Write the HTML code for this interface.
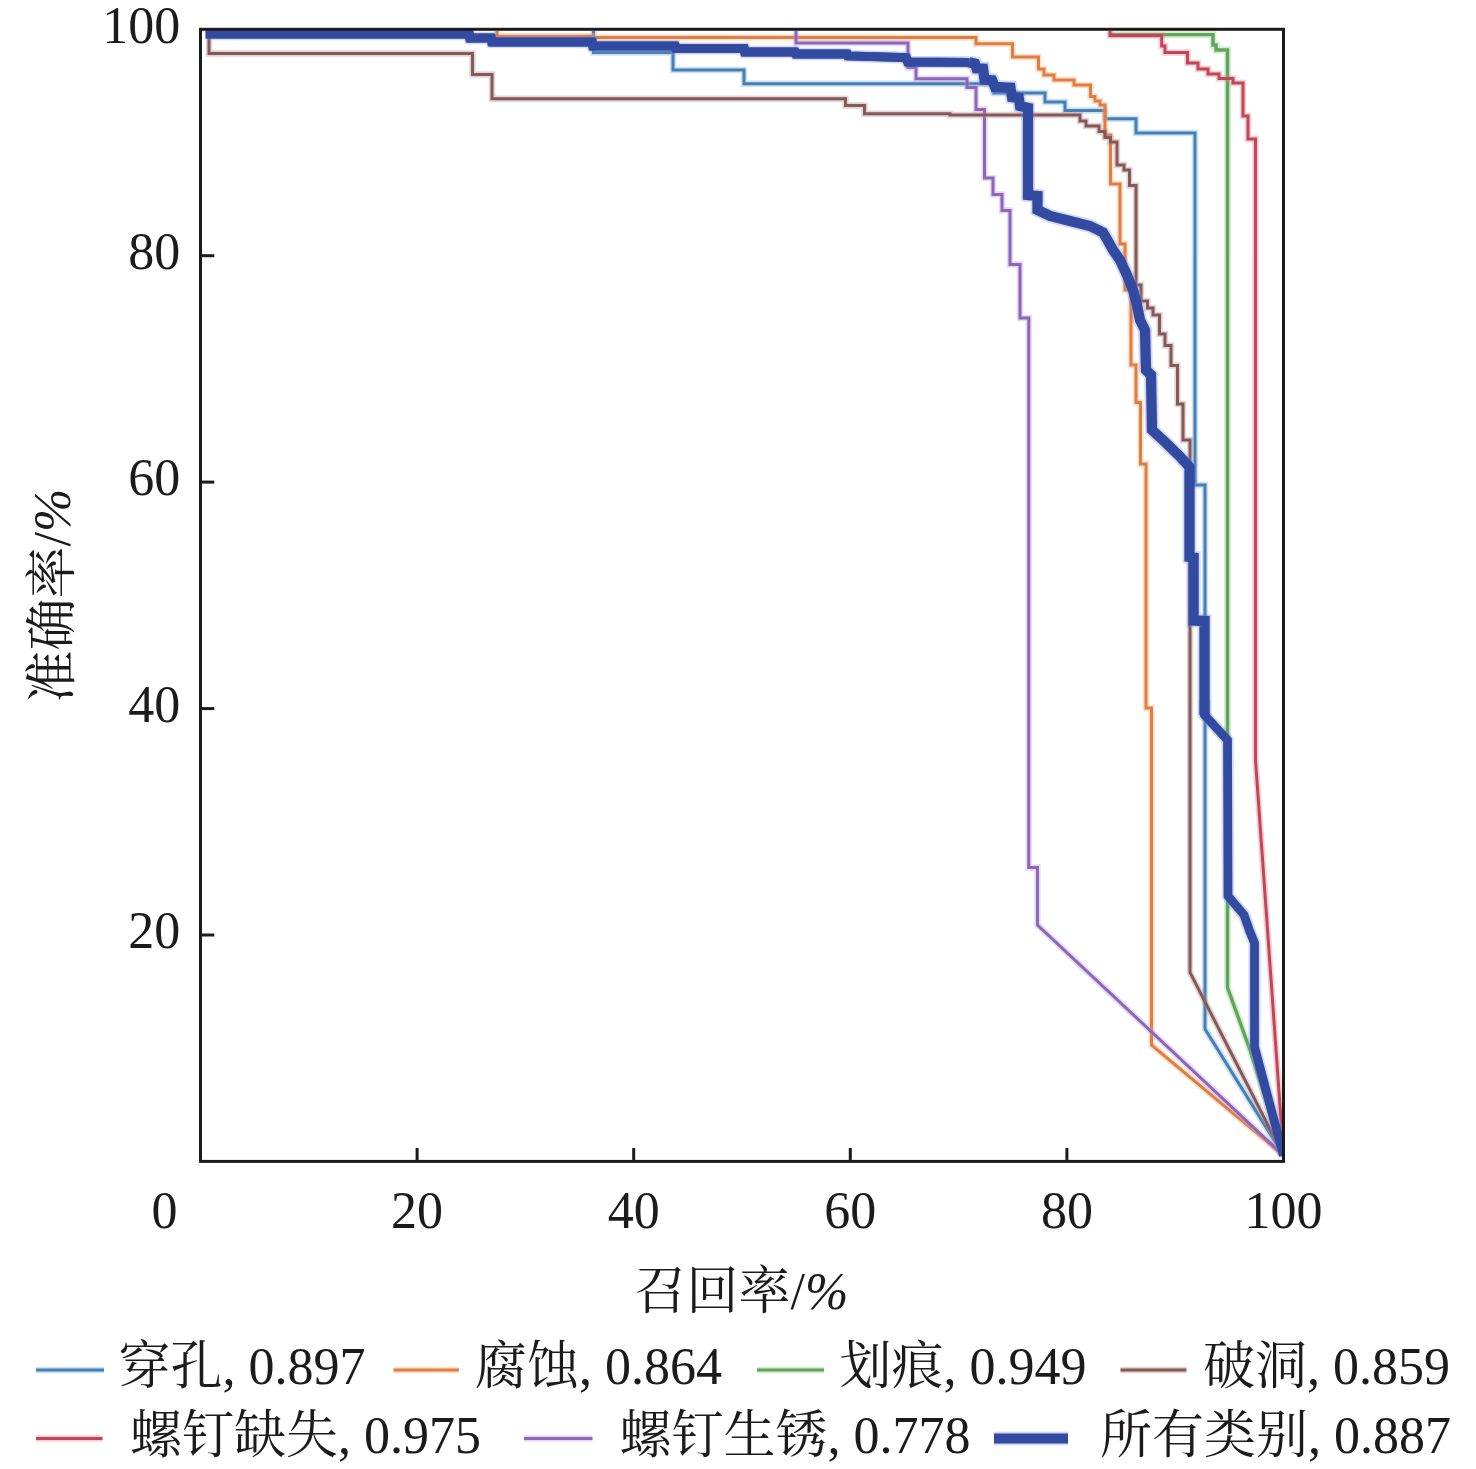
<!DOCTYPE html>
<html lang="zh"><head><meta charset="utf-8"><title>PR</title>
<style>html,body{margin:0;padding:0;background:#fff}svg{display:block}</style></head>
<body>
<svg width="1476" height="1469" viewBox="0 0 1476 1469">
<rect width="1476" height="1469" fill="#fff"/>
<defs><clipPath id="pc"><rect x="200.5" y="29.3" width="1083.0" height="1132.1000000000001"/></clipPath></defs>
<g fill="none" stroke-linejoin="miter" stroke-linecap="butt" clip-path="url(#pc)">
<path d="M593.5,31V52.5H673V70H744V83.75H993.75V93H1045V102H1065V110.5H1105V118.75H1136V133H1195V485H1205V1029L1283.5,1155.5" stroke="#7fb0dc" stroke-width="6.4" stroke-opacity="0.38" stroke-linejoin="miter"/>
<path d="M593.5,31V52.5H673V70H744V83.75H993.75V93H1045V102H1065V110.5H1105V118.75H1136V133H1195V485H1205V1029L1283.5,1155.5" stroke="#4580b4" stroke-width="3.0" stroke-linejoin="miter"/>
<path d="M497,31V36.25H593V37.5H976V43.75H1012.5V57H1038.5V69H1044V75H1054V80H1074V85H1090.5V96.5H1095V101H1100V105H1105V135H1110.5V184H1120V244H1125V290H1131V365H1136V402.5H1140.5V464H1146V708H1151.5V1045L1283.5,1155.5" stroke="#fbb080" stroke-width="6.4" stroke-opacity="0.38" stroke-linejoin="miter"/>
<path d="M497,31V36.25H593V37.5H976V43.75H1012.5V57H1038.5V69H1044V75H1054V80H1074V85H1090.5V96.5H1095V101H1100V105H1105V135H1110.5V184H1120V244H1125V290H1131V365H1136V402.5H1140.5V464H1146V708H1151.5V1045L1283.5,1155.5" stroke="#e07e42" stroke-width="3.0" stroke-linejoin="miter"/>
<path d="M1110,34.6H1213V45H1216V50H1227.5V987.5L1250,1050L1283.5,1155.5" stroke="#8fd08a" stroke-width="6.8" stroke-opacity="0.38" stroke-linejoin="miter"/>
<path d="M1110,34.6H1213V45H1216V50H1227.5V987.5L1250,1050L1283.5,1155.5" stroke="#60a55c" stroke-width="3.4" stroke-linejoin="miter"/>
<path d="M1110,31V35.6H1161.7V46H1165V52.5H1187.5V63H1198V69H1208V74H1219V78.5H1233V83H1243V116H1248V139H1255.5V760L1283.5,1155.5" stroke="#e8808c" stroke-width="6.4" stroke-opacity="0.38" stroke-linejoin="miter"/>
<path d="M1110,31V35.6H1161.7V46H1165V52.5H1187.5V63H1198V69H1208V74H1219V78.5H1233V83H1243V116H1248V139H1255.5V760L1283.5,1155.5" stroke="#c0475a" stroke-width="3.0" stroke-linejoin="miter"/>
<path d="M796,31V43H908V67.5H916V78.75H967V87.5H976V109.5H984.5V178H993V194.5H1002V210.5H1010V264.5H1020V318H1028.75V867.5H1037.5V925L1283.5,1155.5" stroke="#c0a0e0" stroke-width="6.4" stroke-opacity="0.38" stroke-linejoin="miter"/>
<path d="M796,31V43H908V67.5H916V78.75H967V87.5H976V109.5H984.5V178H993V194.5H1002V210.5H1010V264.5H1020V318H1028.75V867.5H1037.5V925L1283.5,1155.5" stroke="#8e66b8" stroke-width="3.0" stroke-linejoin="miter"/>
<path d="M209,31V53.5H472.5V74.5H492V98.75H845.5V105.5H864.5V113.75H950V115H1080V121H1086V126H1099V131.5H1105V137.5H1110.5V142H1117V165H1124V170H1129.5V185.5H1136V285H1141V301H1147.5V308H1153V315H1159.5V334H1165V345.5H1171V365.5H1177.5V404H1183V440H1190V972.5L1283.5,1155.5" stroke="#b89090" stroke-width="6.4" stroke-opacity="0.38" stroke-linejoin="miter"/>
<path d="M209,31V53.5H472.5V74.5H492V98.75H845.5V105.5H864.5V113.75H950V115H1080V121H1086V126H1099V131.5H1105V137.5H1110.5V142H1117V165H1124V170H1129.5V185.5H1136V285H1141V301H1147.5V308H1153V315H1159.5V334H1165V345.5H1171V365.5H1177.5V404H1183V440H1190V972.5L1283.5,1155.5" stroke="#85595a" stroke-width="3.0" stroke-linejoin="miter"/>
<path d="M206,34 L469,34 L470,38 L491,38 L492,42 L592,42 L593,46 L675,46 L676,48.5 L744,48.5 L745,52 L795,52 L796,54 L847,54 L848,56 L906,57.5 L908,62 L969,62.3" stroke="#8890e0" stroke-width="12.4" stroke-opacity="0.35" stroke-linejoin="miter"/>
<path d="M969,62.3 L975,63.7 L976.5,68.3 L983,68.7 L984.5,79.5 L992.2,80.3 L995,87 L1010.5,87.8 L1012,97 L1018.8,97.8 L1020,106 L1028,107.8 L1028,195 L1037.5,196 L1037.5,210 L1050,216 L1070,221 L1090,226 L1103,232.5 L1108,241 L1113,250 L1120,260 L1127,275 L1133,290 L1137,305 L1140,320 L1145,330 L1146,370 L1151,375 L1152,430 L1165,442 L1180,456.5 L1189.5,467 L1189.5,557 L1193.6,557.5 L1193.6,620.5 L1204.5,621 L1204.5,715" stroke="#8890e0" stroke-width="14" stroke-opacity="0.35" stroke-linejoin="miter"/>
<path d="M206,34 L469,34 L470,38 L491,38 L492,42 L592,42 L593,46 L675,46 L676,48.5 L744,48.5 L745,52 L795,52 L796,54 L847,54 L848,56 L906,57.5 L908,62 L969,62.3" stroke="#324ba0" stroke-width="8.8" stroke-linejoin="miter" transform="translate(-0.6,0)"/>
<path d="M206,34 L469,34 L470,38 L491,38 L492,42 L592,42 L593,46 L675,46 L676,48.5 L744,48.5 L745,52 L795,52 L796,54 L847,54 L848,56 L906,57.5 L908,62 L969,62.3" stroke="#324ba0" stroke-width="8.8" stroke-linejoin="miter" transform="translate(0.6,0)"/>
<path d="M1204.5,700 L1204.5,715 L1227.5,740 L1228,896 L1244,915 L1250,932 L1254.5,943 L1254.5,1047 L1283.5,1155.5" stroke="#8890e0" stroke-width="12.4" stroke-opacity="0.35" stroke-linejoin="miter"/>
<path d="M969,62.3 L975,63.7 L976.5,68.3 L983,68.7 L984.5,79.5 L992.2,80.3 L995,87 L1010.5,87.8 L1012,97 L1018.8,97.8 L1020,106 L1028,107.8 L1028,195 L1037.5,196 L1037.5,210 L1050,216 L1070,221 L1090,226 L1103,232.5 L1108,241 L1113,250 L1120,260 L1127,275 L1133,290 L1137,305 L1140,320 L1145,330 L1146,370 L1151,375 L1152,430 L1165,442 L1180,456.5 L1189.5,467 L1189.5,557 L1193.6,557.5 L1193.6,620.5 L1204.5,621 L1204.5,715" stroke="#324ba0" stroke-width="10.3" stroke-linejoin="miter"/>
<path d="M1204.5,700 L1204.5,715 L1227.5,740 L1228,896 L1244,915 L1250,932 L1254.5,943 L1254.5,1047 L1283.5,1155.5" stroke="#324ba0" stroke-width="8.8" stroke-linejoin="miter"/>
</g>
<g stroke="#1c1a1b" stroke-width="3" fill="none">
<rect x="200.5" y="29.3" width="1083.0" height="1132.1000000000001"/>
<line x1="417.1" y1="1161.4" x2="417.1" y2="1148.0"/>
<line x1="200.5" y1="935.0" x2="214.3" y2="935.0"/>
<line x1="633.7" y1="1161.4" x2="633.7" y2="1148.0"/>
<line x1="200.5" y1="708.6" x2="214.3" y2="708.6"/>
<line x1="850.3" y1="1161.4" x2="850.3" y2="1148.0"/>
<line x1="200.5" y1="482.1" x2="214.3" y2="482.1"/>
<line x1="1066.9" y1="1161.4" x2="1066.9" y2="1148.0"/>
<line x1="200.5" y1="255.7" x2="214.3" y2="255.7"/>
</g>
<g font-family="'Liberation Serif', 'Noto Serif CJK SC', serif" font-size="52" fill="#1c1a1b">
<text x="180.2" y="948.2" text-anchor="end">20</text>
<text x="180.2" y="721.8" text-anchor="end">40</text>
<text x="180.2" y="495.3" text-anchor="end">60</text>
<text x="180.2" y="268.9" text-anchor="end">80</text>
<text x="180.2" y="42.5" text-anchor="end">100</text>
<text x="417.1" y="1228" text-anchor="middle">20</text>
<text x="633.7" y="1228" text-anchor="middle">40</text>
<text x="850.3" y="1228" text-anchor="middle">60</text>
<text x="1066.9" y="1228" text-anchor="middle">80</text>
<text x="1283.5" y="1228" text-anchor="middle">100</text>
<text x="164.5" y="1228" text-anchor="middle">0</text>
<text x="741.5" y="1309" text-anchor="middle">召回率/<tspan font-style="italic">%</tspan></text>
<text transform="translate(70,595.5) rotate(-90)" text-anchor="middle">准确率/<tspan font-style="italic">%</tspan></text>
<line x1="36" y1="1370" x2="104" y2="1370" stroke="#7fb0dc" stroke-opacity="0.38" stroke-width="6.4"/>
<line x1="36" y1="1370" x2="104" y2="1370" stroke="#4580b4" stroke-width="3"/>
<text x="118.5" y="1384">穿孔, 0.897</text>
<line x1="393.5" y1="1370" x2="459" y2="1370" stroke="#fbb080" stroke-opacity="0.38" stroke-width="6.4"/>
<line x1="393.5" y1="1370" x2="459" y2="1370" stroke="#e07e42" stroke-width="3"/>
<text x="475" y="1384">腐蚀, 0.864</text>
<line x1="757" y1="1370" x2="824" y2="1370" stroke="#8fd08a" stroke-opacity="0.38" stroke-width="6.4"/>
<line x1="757" y1="1370" x2="824" y2="1370" stroke="#60a55c" stroke-width="3"/>
<text x="839.5" y="1384">划痕, 0.949</text>
<line x1="1120.5" y1="1370" x2="1186.5" y2="1370" stroke="#b89090" stroke-opacity="0.38" stroke-width="6.4"/>
<line x1="1120.5" y1="1370" x2="1186.5" y2="1370" stroke="#85595a" stroke-width="3"/>
<text x="1203" y="1384">破洞, 0.859</text>
<line x1="36" y1="1438.5" x2="102.5" y2="1438.5" stroke="#e8808c" stroke-opacity="0.38" stroke-width="6.4"/>
<line x1="36" y1="1438.5" x2="102.5" y2="1438.5" stroke="#c0475a" stroke-width="3"/>
<text x="130" y="1453">螺钉缺失, 0.975</text>
<line x1="524" y1="1438.5" x2="592.5" y2="1438.5" stroke="#c0a0e0" stroke-opacity="0.38" stroke-width="6.4"/>
<line x1="524" y1="1438.5" x2="592.5" y2="1438.5" stroke="#8e66b8" stroke-width="3"/>
<text x="619.5" y="1453">螺钉生锈, 0.778</text>
<line x1="994" y1="1438.5" x2="1068" y2="1438.5" stroke="#8890e0" stroke-opacity="0.38" stroke-width="13.4"/>
<line x1="994" y1="1438.5" x2="1068" y2="1438.5" stroke="#324ba0" stroke-width="10"/>
<text x="1100" y="1453">所有类别, 0.887</text>
</g>
</svg>
</body></html>
